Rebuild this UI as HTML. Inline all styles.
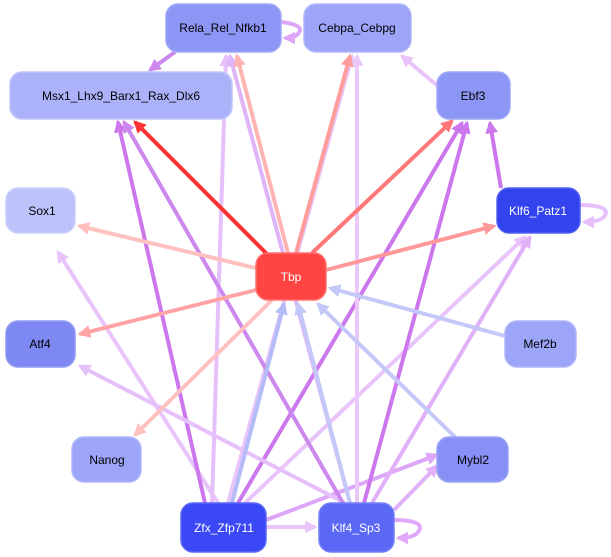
<!DOCTYPE html>
<html><head><style>
body{margin:0;background:#fff;width:611px;height:557px;overflow:hidden}
svg{display:block}
text{font-family:"Liberation Sans",sans-serif;font-size:12px;text-anchor:middle;dominant-baseline:central}
</style></head><body>
<svg width="611" height="557" viewBox="0 0 611 557">
<defs>
<marker id="a" viewBox="0 0 10 10" refX="8" refY="5" markerWidth="3.2" markerHeight="3.2" orient="auto" markerUnits="strokeWidth"><path d="M0,0L10,5L0,10z" fill="context-stroke"/></marker>
</defs>
<g fill="none" stroke-width="4" marker-end="url(#a)">
<!-- purple edges from Zfx / Klf4 -->
<line x1="218" y1="503" x2="58" y2="252" stroke="#e8c4fa"/>
<line x1="205" y1="503" x2="118" y2="122" stroke="#cc77ee"/>
<line x1="212" y1="503" x2="226" y2="56" stroke="#e6c0fa"/>
<line x1="228" y1="503" x2="352" y2="56" stroke="#e8c4fa"/>
<line x1="238" y1="503" x2="462" y2="123" stroke="#cc77ee"/>
<line x1="245" y1="503" x2="525" y2="237" stroke="#e8c4fa"/>
<line x1="266" y1="520" x2="437" y2="455" stroke="#dda6f8"/>
<line x1="266" y1="527" x2="315" y2="527" stroke="#e8c4fa"/>
<line x1="345" y1="503" x2="80" y2="366" stroke="#e6c0fa"/>
<line x1="343" y1="503" x2="124" y2="122" stroke="#cc88ee"/>
<line x1="350" y1="503" x2="230" y2="56" stroke="#e0b4f8"/>
<line x1="357" y1="503" x2="357" y2="56" stroke="#eac8fa"/>
<line x1="364" y1="503" x2="467" y2="123" stroke="#cc77ee"/>
<line x1="372" y1="503" x2="530" y2="237" stroke="#e0b0f8"/>
<line x1="394" y1="510" x2="437" y2="466" stroke="#e0b0f8"/>
<line x1="440" y1="88" x2="402" y2="56" stroke="#e8c4fa"/>
<line x1="501" y1="188" x2="490" y2="123" stroke="#cc77ee"/>
<line x1="175" y1="52" x2="150" y2="70" stroke="#cc88ee"/>
<path d="M281,22 Q300,24 300,30 Q298,38 285,38" stroke="#dda6f8"/>
<path d="M580,205 Q606,205 606,213 Q604,222 584,222" stroke="#e6c0fa"/>
<path d="M394,520 Q420,520 420,528 Q418,538 398,538" stroke="#e0a8f8"/>
<!-- blue edges into Tbp -->
<line x1="232" y1="503" x2="284" y2="304" stroke="#b4bcf8"/>
<line x1="350" y1="503" x2="298" y2="304" stroke="#c4c8f8"/>
<line x1="455" y1="437" x2="318" y2="304" stroke="#c4c8f8"/>
<line x1="505" y1="336" x2="330" y2="288" stroke="#c4c8f8"/>
<!-- red edges from Tbp -->
<line x1="268" y1="255" x2="135" y2="122" stroke="#ff3333"/>
<line x1="288" y1="253" x2="237" y2="56" stroke="#ffb4b4"/>
<line x1="296" y1="253" x2="350" y2="56" stroke="#ff9c9c"/>
<line x1="312" y1="253" x2="452" y2="121" stroke="#ff7777"/>
<line x1="326" y1="270" x2="494" y2="226" stroke="#ff9898"/>
<line x1="256" y1="268" x2="79" y2="226" stroke="#ffc0c0"/>
<line x1="256" y1="290" x2="80" y2="334" stroke="#ffa4a4"/>
<line x1="272" y1="300" x2="135" y2="435" stroke="#ffc0c0"/>
</g>
<g stroke-width="1.5">
<rect x="166" y="4" width="115" height="48" rx="12" fill="#8c96f5" stroke="#a0a8f8"/>
<rect x="304" y="4" width="107" height="48" rx="12" fill="#9ca5f8" stroke="#b0b6fa"/>
<rect x="10" y="72" width="222" height="47" rx="12" fill="#abb2f9" stroke="#c0c6fa"/>
<rect x="437" y="72" width="73" height="47" rx="12" fill="#8c96f5" stroke="#a0a8f8"/>
<rect x="6" y="188" width="69" height="45" rx="12" fill="#bcc2fa" stroke="#ccd0fb"/>
<rect x="497" y="188" width="83" height="45" rx="12" fill="#3344ee" stroke="#5060f0"/>
<rect x="256" y="253" width="70" height="47" rx="12" fill="#ff4444" stroke="#ff7070"/>
<rect x="6" y="321" width="69" height="46" rx="12" fill="#7d88f2" stroke="#949cf5"/>
<rect x="505" y="321" width="71" height="46" rx="12" fill="#9ca5f8" stroke="#b0b6fa"/>
<rect x="72" y="437" width="69" height="45" rx="12" fill="#9ca5f8" stroke="#b0b6fa"/>
<rect x="437" y="437" width="71" height="45" rx="12" fill="#8790f4" stroke="#9ca4f6"/>
<rect x="181" y="503" width="85" height="49" rx="12" fill="#3a48f5" stroke="#5a66f6"/>
<rect x="319" y="503" width="75" height="49" rx="12" fill="#5a68f5" stroke="#7480f6"/>
</g>
<text x="223" y="28">Rela_Rel_Nfkb1</text>
<text x="357" y="28">Cebpa_Cebpg</text>
<text x="121" y="96">Msx1_Lhx9_Barx1_Rax_Dlx6</text>
<text x="473" y="96">Ebf3</text>
<text x="42" y="211">Sox1</text>
<text x="538" y="211" fill="#fff">Klf6_Patz1</text>
<text x="291" y="277" fill="#fff">Tbp</text>
<text x="40" y="344">Atf4</text>
<text x="540" y="344">Mef2b</text>
<text x="107" y="460">Nanog</text>
<text x="473" y="460">Mybl2</text>
<text x="224" y="528" fill="#fff">Zfx_Zfp711</text>
<text x="356" y="528" fill="#fff">Klf4_Sp3</text>
</svg>
</body></html>
